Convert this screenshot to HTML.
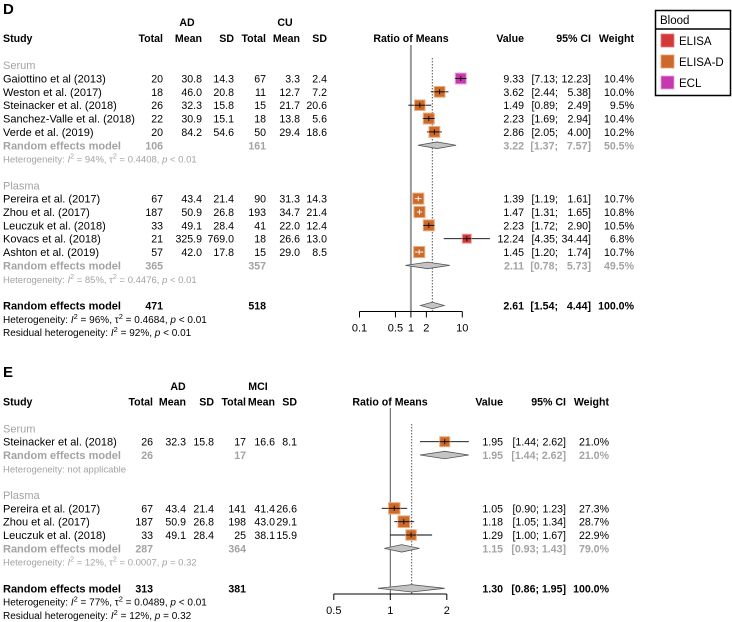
<!DOCTYPE html>
<html><head><meta charset="utf-8"><style>
html,body{margin:0;padding:0;background:#fff;}
svg{display:block;font-family:"Liberation Sans",Arial,sans-serif;}
</style></head><body>
<svg id="chart" width="732" height="622" viewBox="0 0 732 622" xmlns="http://www.w3.org/2000/svg">
<g id="gD"></g>
<g id="gE"></g>
<g>
<rect x="655.5" y="10.5" width="75" height="85" fill="#fff" stroke="#000" stroke-width="1.5"/>
<line x1="655.5" y1="29" x2="730.5" y2="29" stroke="#000" stroke-width="1.5"/>
<text x="660" y="24" font-size="11.5">Blood</text>
<g><rect x="661" y="34" width="13" height="13" fill="#d23a3a" stroke="#e78" stroke-width="0.8"/><text x="679" y="45" font-size="11.5">ELISA</text></g>
<g><rect x="661" y="55" width="13" height="13" fill="#cc6a2c" stroke="#e9a070" stroke-width="0.8"/><text x="679" y="66" font-size="11.5">ELISA-D</text></g>
<g><rect x="661" y="76" width="13" height="13" fill="#c538b0" stroke="#e8a0d8" stroke-width="0.8"/><text x="679" y="87" font-size="11.5">ECL</text></g>
</g>
</svg>
<script>
// ---------- Panel D data ----------
const dNames=["Gaiottino et al (2013)","Weston et al. (2017)","Steinacker et al. (2018)","Sanchez-Valle et al. (2018)","Verde et al. (2019)","Pereira et al. (2017)","Zhou et al. (2017)","Leuczuk et al. (2018)","Kovacs et al. (2018)","Ashton et al. (2019)"];
const dGroup=[0,0,0,0,0,1,1,1,1,1];
const dNAD=[20,18,26,22,20,67,187,33,21,57];
const dMeanAD=[30.8,46.0,32.3,30.9,84.2,43.4,50.9,49.1,325.9,42.0];
const dSdAD=[14.3,20.8,15.8,15.1,54.6,21.4,26.8,28.4,769.0,17.8];
const dNCU=[67,11,15,18,50,90,193,41,18,15];
const dMeanCU=[3.3,12.7,21.7,13.8,29.4,31.3,34.7,22.0,26.6,29.0];
const dSdCU=[2.4,7.2,20.6,5.6,18.6,14.3,21.4,12.4,13.0,8.5];
const dEst=[9.33,3.62,1.49,2.23,2.86,1.39,1.47,2.23,12.24,1.45];
const dLo=[7.13,2.44,0.89,1.69,2.05,1.19,1.31,1.72,4.35,1.20];
const dHi=[12.23,5.38,2.49,2.94,4.00,1.61,1.65,2.90,34.44,1.74];
const dWeight=[10.4,10.0,9.5,10.4,10.2,10.7,10.8,10.5,6.8,10.7];
const dMethod=["ECL","ELISA-D","ELISA-D","ELISA-D","ELISA-D","ELISA-D","ELISA-D","ELISA-D","ELISA","ELISA-D"];
const dSubEst=[3.22,2.11];const dSubLo=[1.37,0.78];const dSubHi=[7.57,5.73];const dSubW=[50.5,49.5];
const dSubN1=[106,365];const dSubN2=[161,357];
const dSubHet=[["94%","0.4408","< 0.01"],["85%","0.4476","< 0.01"]];
const dAll=[2.61,1.54,4.44];const dAllN=[471,518];
const dTicks=[0.1,0.5,1,2,10];const dTickLabels=["0.1","0.5","1","2","10"];
// ---------- Panel E data ----------
const eNames=["Steinacker et al. (2018)","Pereira et al. (2017)","Zhou et al. (2017)","Leuczuk et al. (2018)"];
const eGroup=[0,1,1,1];
const eNAD=[26,67,187,33];
const eMeanAD=[32.3,43.4,50.9,49.1];
const eSdAD=[15.8,21.4,26.8,28.4];
const eNMCI=[17,141,198,25];
const eMeanMCI=[16.6,41.4,43.0,38.1];
const eSdMCI=[8.1,26.6,29.1,15.9];
const eEst=[1.95,1.05,1.18,1.29];
const eLo=[1.44,0.90,1.05,1.00];
const eHi=[2.62,1.23,1.34,1.67];
const eWeight=[21.0,27.3,28.7,22.9];
const eMethod=["ELISA-D","ELISA-D","ELISA-D","ELISA-D"];
const eSubEst=[1.95,1.15];const eSubLo=[1.44,0.93];const eSubHi=[2.62,1.43];const eSubW=[21.0,79.0];
const eSubN1=[26,287];const eSubN2=[17,364];
const eAll=[1.30,0.86,1.95];const eAllN=[313,381];
const eTicks=[0.5,1,2];const eTickLabels=["0.5","1","2"];

const NS="http://www.w3.org/2000/svg";
const colors={"ELISA":["#d23a3a","#e99"],"ELISA-D":["#cc6a2c","#eab080"],"ECL":["#c538b0","#eaa8dd"]};
const GREY="#a3a3a3";
const FS=11, NFS=10.6, HFS=10.6;
function mk(p,tag,at){const e=document.createElementNS(NS,tag);for(const k in at)e.setAttribute(k,at[k]);p.appendChild(e);return e;}
function txt(p,x,y,s,o){o=o||{};const t=mk(p,"text",{x:x,y:y,"font-size":o.fs||FS,"text-anchor":o.a||"start",fill:o.c||"#000","font-weight":o.b?"bold":"normal"});t.textContent=s;return t;}
function het(p,x,y,parts,c,fs){
  const t=mk(p,"text",{x:x,y:y,"font-size":fs,fill:c});
  parts.forEach(q=>{const s=mk(t,"tspan",q[1]==="sup"?{dy:-4,"font-size":fs*0.75}:(q[1]==="down"?{dy:4}:(q[1]==="i"?{"font-style":"italic"}:{})));s.textContent=q[0];});
  return t;
}
function hetParts(I,tau,p){return [["Heterogeneity: "],["I","i"],["2","sup"],[" = "+I+", τ","down"],["2","sup"],[" = "+tau+", ","down"],["p","i"],[" "+p]];}
function panel(g,cfg){
  const X=cfg.x;
  txt(g,3,cfg.labelY,cfg.label,{fs:15,b:true});
  let h=txt(g,cfg.c[1],cfg.h1,"AD",{b:true,a:"middle",fs:HFS});
  h=txt(g,cfg.c[4],cfg.h1,cfg.g2,{b:true,a:"middle",fs:HFS});
  const hy=cfg.h2;
  txt(g,3,hy,"Study",{b:true,fs:HFS});
  ["Total","Mean","SD","Total","Mean","SD"].forEach((s,i)=>txt(g,cfg.cr[i],hy,s,{b:true,a:"end",fs:HFS}));
  h=txt(g,cfg.axC,hy,"Ratio of Means",{b:true,a:"middle",fs:HFS});
  txt(g,cfg.valX,hy,"Value",{b:true,a:"end",fs:HFS});txt(g,cfg.ciX,hy,"95% CI",{b:true,a:"end",fs:HFS});txt(g,cfg.wX,hy,"Weight",{b:true,a:"end",fs:HFS});
  const ref=mk(g,"line",{x1:X(1),x2:X(1),y1:cfg.refTop,y2:cfg.axY,stroke:cfg.refCol,"stroke-width":cfg.refW});
  
  const dl=mk(g,"line",{x1:X(cfg.all[0]),x2:X(cfg.all[0]),y1:cfg.dotTop,y2:cfg.axY,stroke:"#555","stroke-width":1,"stroke-dasharray":"1.5,1.5"});
  
  const ax=mk(g,"line",{x1:X(cfg.ticks[0]),x2:X(cfg.ticks[cfg.ticks.length-1]),y1:cfg.axY,y2:cfg.axY,stroke:"#000","stroke-width":1});
  
  cfg.ticks.forEach((t,i)=>{mk(g,"line",{x1:X(t),x2:X(t),y1:cfg.axY,y2:cfg.axY+6,stroke:"#000"});
    const tl=txt(g,X(t),cfg.axY+20,cfg.tickLabels[i],{a:"middle"});});
  const rowY=cfg.rowY;
  function ci(y,v,lo,hi,w,c,b,nm){
    const vt=txt(g,cfg.valX,y+4,v.toFixed(2),{a:"end",c:c,b:b,fs:NFS});
    
    txt(g,cfg.semX,y+4,"["+lo.toFixed(2)+";",{a:"end",c:c,b:b,fs:NFS});
    txt(g,cfg.ciX,y+4,hi.toFixed(2)+"]",{a:"end",c:c,b:b,fs:NFS});
    txt(g,cfg.wX,y+4,w.toFixed(1)+"%",{a:"end",c:c,b:b,fs:NFS});
  }
  function diamond(y,e,lo,hi,nm){
    const hh=cfg.dh;
    const d=mk(g,"polygon",{points:`${X(lo)},${y} ${X(e)},${y-hh} ${X(hi)},${y} ${X(e)},${y+hh}`,fill:"#c4c4c4",stroke:"#555","stroke-width":0.8});
    
  }
  cfg.groups.forEach((gr,gi)=>{
    txt(g,3,rowY(gr.header)+4,gr.title,{c:GREY});
    let k=0;
    for(let i=0;i<cfg.names.length;i++){ if(cfg.group[i]!==gi)continue;
      const y=rowY(gr.first+k);k++;
      const nm=txt(g,3,y+4,cfg.names[i]);
      const vals=[cfg.n1[i],cfg.m1[i].toFixed(1),cfg.s1[i].toFixed(1),cfg.n2[i],cfg.m2[i].toFixed(1),cfg.s2[i].toFixed(1)];
      vals.forEach((v,j)=>txt(g,cfg.cr[j],y+4,String(v),{a:"end",fs:NFS}));
      ci(y,cfg.est[i],cfg.lo[i],cfg.hi[i],cfg.w[i],"#000",false,"study");
      const sz=cfg.k*Math.sqrt(cfg.w[i]);const cx=X(cfg.est[i]);
      const col=colors[cfg.method[i]];
      mk(g,"line",{x1:X(cfg.lo[i]),x2:X(cfg.hi[i]),y1:y,y2:y,stroke:"#000","stroke-width":0.9});
      const sq=mk(g,"rect",{x:cx-sz/2,y:y-sz/2,width:sz,height:sz,fill:col[0],stroke:col[1],"stroke-width":1});
      
      const inside=X(cfg.lo[i])>=cx-sz/2 && X(cfg.hi[i])<=cx+sz/2;
      const lc=inside?"#fff":"#000";
      mk(g,"line",{x1:Math.max(X(cfg.lo[i]),cx-sz/2),x2:Math.min(X(cfg.hi[i]),cx+sz/2),y1:y,y2:y,stroke:lc,"stroke-width":0.9});
      mk(g,"line",{x1:cx,x2:cx,y1:y-2.5,y2:y+2.5,stroke:lc,"stroke-width":0.9});
    }
    const ry=rowY(gr.re);
    txt(g,3,ry+4,"Random effects model",{c:GREY,b:true});
    txt(g,cfg.cr[0],ry+4,String(cfg.subN1[gi]),{a:"end",c:GREY,b:true,fs:NFS});
    txt(g,cfg.cr[3],ry+4,String(cfg.subN2[gi]),{a:"end",c:GREY,b:true,fs:NFS});
    diamond(ry,cfg.subEst[gi],cfg.subLo[gi],cfg.subHi[gi],"subgroup-diamond");
    ci(ry,cfg.subEst[gi],cfg.subLo[gi],cfg.subHi[gi],cfg.subW[gi],GREY,true,"subgroup");
    if(cfg.subHet[gi]) het(g,3,rowY(gr.re+1)+4,hetParts(...cfg.subHet[gi]),GREY,9.5);
    else txt(g,3,rowY(gr.re+1)+4,"Heterogeneity: not applicable",{c:GREY,fs:9.5});
  });
  const oy=rowY(cfg.overall);
  txt(g,3,oy+4,"Random effects model",{b:true});
  txt(g,cfg.cr[0],oy+4,String(cfg.allN[0]),{a:"end",b:true,fs:NFS});
  txt(g,cfg.cr[3],oy+4,String(cfg.allN[1]),{a:"end",b:true,fs:NFS});
  diamond(oy,cfg.all[0],cfg.all[1],cfg.all[2],"overall-diamond");
  ci(oy,cfg.all[0],cfg.all[1],cfg.all[2],100,"#000",true,"overall");
  het(g,3,rowY(cfg.overall+1)+4,hetParts(...cfg.allHet),"#000",10);
  het(g,3,rowY(cfg.overall+2)+4,[["Residual heterogeneity: "],["I","i"],["2","sup"],[" = "+cfg.resHet[0]+", ","down"],["p","i"],[" "+cfg.resHet[1]]],"#000",10);
}
panel(document.getElementById("gD"),{
  label:"D",labelY:14,g2:"CU",h1:26,h2:42,c:[0,187,0,0,285],cr:[163,202,234,266,300,327],
  x:v=>410.9+51.4*Math.log10(v),axC:411,valX:524,semX:558,ciX:591,wX:634,
  refTop:45,dotTop:58,axY:311.5,refCol:"#9a9a9a",refW:2,ticks:dTicks,tickLabels:dTickLabels,
  rowY:i=>78.5+13.35*i,dh:3.3,k:3.4,
  names:dNames,group:dGroup,n1:dNAD,m1:dMeanAD,s1:dSdAD,n2:dNCU,m2:dMeanCU,s2:dSdCU,
  est:dEst,lo:dLo,hi:dHi,w:dWeight,method:dMethod,
  groups:[{title:"Serum",header:-1,first:0,re:5},{title:"Plasma",header:8,first:9,re:14}],
  subEst:dSubEst,subLo:dSubLo,subHi:dSubHi,subW:dSubW,subN1:dSubN1,subN2:dSubN2,subHet:dSubHet,
  overall:17,all:dAll,allN:dAllN,allHet:["96%","0.4684","< 0.01"],resHet:["92%","< 0.01"]
});
panel(document.getElementById("gE"),{
  label:"E",labelY:377,g2:"MCI",h1:390,h2:405.5,c:[0,178,0,0,258],cr:[153,186,214,246,275,297],
  x:v=>390.3+187.7*Math.log10(v),axC:390,valX:503,semX:539,ciX:566,wX:609,
  refTop:408,dotTop:424,axY:594,refCol:"#555",refW:1,ticks:eTicks,tickLabels:eTickLabels,
  rowY:i=>441.7+13.33*i,dh:3.7,k:2.18,
  names:eNames,group:eGroup,n1:eNAD,m1:eMeanAD,s1:eSdAD,n2:eNMCI,m2:eMeanMCI,s2:eSdMCI,
  est:eEst,lo:eLo,hi:eHi,w:eWeight,method:eMethod,
  groups:[{title:"Serum",header:-1,first:0,re:1},{title:"Plasma",header:4,first:5,re:8}],
  subEst:eSubEst,subLo:eSubLo,subHi:eSubHi,subW:eSubW,subN1:eSubN1,subN2:eSubN2,subHet:[null,["12%","0.0007","= 0.32"]],
  overall:11,all:eAll,allN:eAllN,allHet:["77%","0.0489","< 0.01"],resHet:["12%","= 0.32"]
});
</script>
</body></html>
